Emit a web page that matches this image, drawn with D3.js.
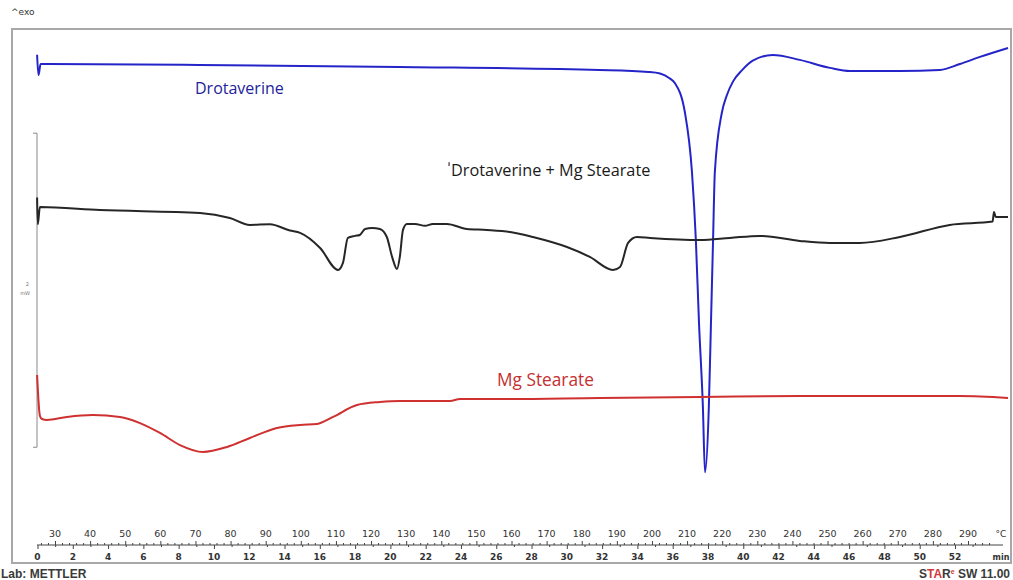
<!DOCTYPE html>
<html>
<head>
<meta charset="utf-8">
<script src="https://d3js.org/d3.v7.min.js"></script>
<style>
  html, body { margin: 0; padding: 0; background: #fff; }
  svg { display: block; }
</style>
</head>
<body>
<svg id="chart" width="1013" height="580"></svg>
<script>
// DSC thermograms: heat flow (mW, offset curves) against sample temperature (°C)
const drotaverineT = [24.9, 25.3, 25.9, 28, 71, 128, 185, 199, 202.3, 205, 206.5, 209.4, 211.4, 212.5, 213.4, 214.5, 215.1, 216.2, 216.8, 217.4, 217.9, 219.9, 221.3, 223.1, 225.6, 228.7, 234.4, 242.1, 250.7, 256.4, 270.6, 282, 287.7, 293.4, 301.4];
const drotaverineHF = [3.25, 3.12, 3.19, 3.19, 3.185, 3.172, 3.153, 3.14, 3.13, 3.10, 3.07, 2.88, 2.50, 2.07, 1.54, 1.01, 0.59, 1.01, 1.54, 2.07, 2.50, 2.88, 2.99, 3.08, 3.15, 3.212, 3.248, 3.217, 3.166, 3.146, 3.146, 3.153, 3.191, 3.236, 3.293];

const mixtureT = [24.9, 25.1, 25.7, 42.8, 71.3, 79.8, 85.5, 91.2, 96.9, 99.8, 105.5, 110.6, 112.0, 113.4, 115.4, 116.8, 118.3, 120.3, 122.5, 124.5, 126.0, 127.4, 128.2, 129.1, 130.2, 132.5, 135.4, 137.6, 141.6, 147.3, 153.0, 159.6, 166.1, 175.8, 182.3, 188.9, 190.9, 193.2, 195.7, 199.5, 213.7, 222.2, 230.7, 242.1, 250.7, 259.2, 270.6, 284.8, 297.0, 297.4, 297.9, 299.1, 301.4];
const mixtureHF = [2.34, 2.17, 2.28, 2.261, 2.242, 2.21, 2.166, 2.17, 2.13, 2.115, 2.019, 1.879, 1.924, 2.083, 2.096, 2.102, 2.14, 2.146, 2.14, 2.089, 1.962, 1.885, 1.962, 2.134, 2.172, 2.172, 2.16, 2.172, 2.172, 2.14, 2.134, 2.121, 2.089, 2.025, 1.962, 1.879, 1.898, 2.051, 2.089, 2.083, 2.07, 2.083, 2.096, 2.064, 2.051, 2.051, 2.089, 2.166, 2.187, 2.248, 2.217, 2.217, 2.217];

const stearateT = [24.9, 25.7, 26.3, 27.7, 33.4, 40.8, 48.5, 54.2, 59.9, 65.6, 72.1, 79.0, 85.5, 93.2, 99.8, 104.6, 109.2, 116.0, 122.5, 128.2, 142.5, 145.3, 156.7, 185.2, 213.7, 242.1, 270.6, 287.7, 301.4];
const stearateHF = [1.21, 0.95, 0.93, 0.924, 0.943, 0.955, 0.943, 0.904, 0.841, 0.764, 0.72, 0.752, 0.809, 0.873, 0.892, 0.898, 0.943, 1.019, 1.038, 1.045, 1.045, 1.057, 1.057, 1.064, 1.07, 1.076, 1.076, 1.076, 1.064];

// axis tick labels
const tempTicks = [30, 40, 50, 60, 70, 80, 90, 100, 110, 120, 130, 140, 150, 160, 170, 180, 190, 200, 210, 220, 230, 240, 250, 260, 270, 280, 290];
const timeTicks = [0, 2, 4, 6, 8, 10, 12, 14, 16, 18, 20, 22, 24, 26, 28, 30, 32, 34, 36, 38, 40, 42, 44, 46, 48, 50, 52];

const seriesNames = ["Drotaverine", "\u02C8Drotaverine + Mg Stearate", "Mg Stearate"];
const seriesColors = ["#2424c8", "#262626", "#cf3030"];

const svg = d3.select("#chart");

const x = d3.scaleLinear().domain([30, 290]).range([55, 968]);
const xTime = d3.scaleLinear().domain([0, 52]).range([37.5, 955]);
const y = d3.scaleLinear().domain([0, 3.42]).range([565, 28]);

// frame
svg.append("rect")
  .attr("x", 12).attr("y", 29).attr("width", 999).attr("height", 534)
  .attr("fill", "none").attr("stroke", "#a8a8a8").attr("stroke-width", 2);

svg.append("text").attr("x", 11).attr("y", 15)
  .attr("font-family", "DejaVu Sans, sans-serif").attr("font-size", 9).attr("fill", "#333")
  .text("^exo");

// 2 mW scale bracket
const barTop = y(2.75), barBot = y(0.75);
svg.append("path")
  .attr("d", `M33,${barTop}H37V${barBot}H33`)
  .attr("fill", "none").attr("stroke", "#8a8a8a").attr("stroke-width", 1);
svg.append("text").attr("x", 29).attr("y", 286).attr("text-anchor", "end")
  .attr("font-family", "DejaVu Sans, sans-serif").attr("font-size", 5).attr("fill", "#777").text("2");
svg.append("text").attr("x", 30).attr("y", 295).attr("text-anchor", "end")
  .attr("font-family", "DejaVu Sans, sans-serif").attr("font-size", 5).attr("fill", "#777").text("mW");

// curves
const line = d3.line().x(d => x(d[0])).y(d => y(d[1])).curve(d3.curveMonotoneX);
const series = [
  d3.zip(drotaverineT, drotaverineHF),
  d3.zip(mixtureT, mixtureHF),
  d3.zip(stearateT, stearateHF)
];
series.forEach((s, i) => {
  svg.append("path").datum(s)
    .attr("d", line)
    .attr("fill", "none")
    .attr("stroke", seriesColors[i])
    .attr("stroke-width", 2)
    .attr("stroke-linejoin", "round");
});

// curve labels
const labelPos = [[195, 94, "#23239a", 16], [447, 176, "#1a1a1a", 16.3], [497, 386, "#c43030", 17.3]];
labelPos.forEach((p, i) => {
  svg.append("text").attr("x", p[0]).attr("y", p[1])
    .attr("font-family", "'Open Sans', Lato, sans-serif").attr("font-size", p[3]).attr("fill", p[2])
    .text(seriesNames[i]);
});

// combined temperature / time axis
const axisY = 545;
svg.append("line").attr("x1", 37).attr("x2", 1003).attr("y1", axisY).attr("y2", axisY)
  .attr("stroke", "#444").attr("stroke-width", 1);

const tempAxis = d3.axisTop(x)
  .tickValues(d3.range(26, 298, 2))
  .tickSize(0).tickFormat("");
const tAxisG = svg.append("g").attr("transform", `translate(0,${axisY})`).call(tempAxis);
tAxisG.select(".domain").remove();
tAxisG.selectAll(".tick line")
  .attr("y2", d => d % 10 === 0 ? -4 : -2)
  .attr("stroke", "#444");
svg.append("g").selectAll("text").data(tempTicks).join("text")
  .attr("x", d => x(d)).attr("y", 537).attr("text-anchor", "middle")
  .attr("font-family", "DejaVu Sans, sans-serif").attr("font-size", 9.5).attr("fill", "#333")
  .text(d => d);
svg.append("text").attr("x", 1001).attr("y", 537).attr("text-anchor", "middle")
  .attr("font-family", "DejaVu Sans, sans-serif").attr("font-size", 9).attr("fill", "#333").text("°C");

const timeAxis = d3.axisBottom(xTime)
  .tickValues(d3.range(0, 54, 1))
  .tickSize(0).tickFormat("");
const tmAxisG = svg.append("g").attr("transform", `translate(0,${axisY})`).call(timeAxis);
tmAxisG.select(".domain").remove();
tmAxisG.selectAll(".tick line")
  .attr("y2", d => d % 2 === 0 ? 4 : 2)
  .attr("stroke", "#444");
svg.append("g").selectAll("text").data(timeTicks).join("text")
  .attr("x", d => xTime(d)).attr("y", 560).attr("text-anchor", "middle")
  .attr("font-family", "DejaVu Sans, sans-serif").attr("font-size", 9).attr("font-weight", "bold").attr("fill", "#333")
  .text(d => d);
svg.append("text").attr("x", 1001).attr("y", 560).attr("text-anchor", "middle")
  .attr("font-family", "DejaVu Sans, sans-serif").attr("font-size", 8).attr("font-weight", "bold").attr("fill", "#333").text("min");

// footer
svg.append("text").attr("x", 1).attr("y", 578)
  .attr("font-family", "Liberation Sans, Arial, sans-serif").attr("font-size", 12).attr("font-weight", "bold").attr("fill", "#3a3a3a")
  .text("Lab: METTLER");
const star = svg.append("text").attr("x", 1010).attr("y", 578).attr("text-anchor", "end")
  .attr("font-family", "Liberation Sans, Arial, sans-serif").attr("font-size", 12).attr("font-weight", "bold").attr("fill", "#3a3a3a");
star.append("tspan").text("S");
star.append("tspan").attr("fill", "#d03a3a").text("TA");
star.append("tspan").text("R");
star.append("tspan").attr("fill", "#d03a3a").attr("font-size", 7).attr("dy", -4).text("e");
star.append("tspan").attr("dy", 4).text(" SW 11.00");
</script>
</body>
</html>
